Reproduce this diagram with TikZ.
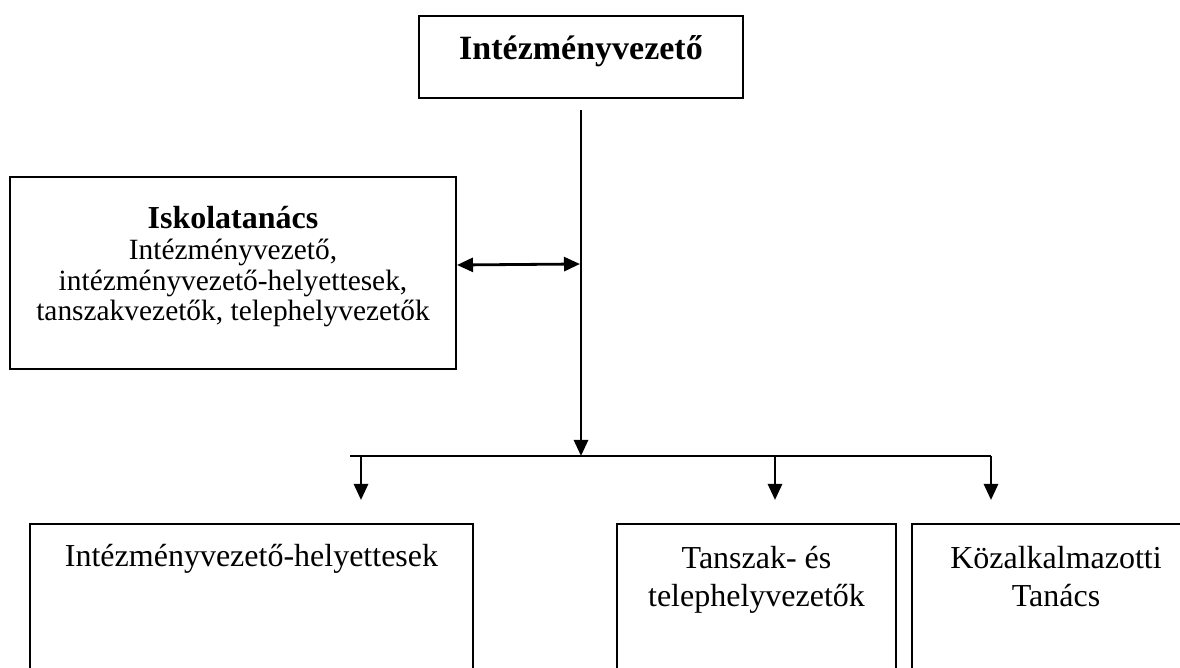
\documentclass[tikz,border=0pt]{standalone}
\usepackage{fontspec}
\setmainfont{Liberation Serif}
\usetikzlibrary{positioning,arrows.meta}

\begin{document}
\begin{tikzpicture}[x=0.5pt,y=-0.5pt,
  frame/.style={draw,line width=1pt,inner sep=0pt},
  txt/.style={align=center,inner sep=0pt,anchor=base,font=\fontsize{16}{19}\selectfont},
  link/.style={line width=1.4pt},
  arr/.style={link,-{Triangle[length=8pt,width=7pt]}}]
  \useasboundingbox (0,0) rectangle (1180,668);
  \clip (0,0) rectangle (1180,668);
  % the boxes (the lower ones run off the page), text set on its last baseline
  \node[frame,minimum width=162pt,minimum height=41pt] (lead) at (581,57) {};
  \node[txt,font=\fontsize{17}{17}\selectfont\bfseries] (leadtxt) at (581,60) {Intézményvezető};
  \node[frame,minimum width=223pt,minimum height=96pt] (council) at (233,273) {};
  \node[txt,font=\fontsize{14.7}{15.4}\selectfont] (counciltxt) at (233,321)
    {{\fontsize{16}{15.4}\selectfont\bfseries Iskolatanács}\\Intézményvezető,\\intézményvezető-helyettesek,\\tanszakvezetők, telephelyvezetők};
  \node[frame,minimum width=221.5pt,minimum height=98pt] (deputies) at (251.5,622) {};
  \node[txt] (deputiestxt) at (251.5,567) {Intézményvezető-helyettesek};
  \node[frame,minimum width=139.5pt,minimum height=98pt] (heads) at (756.5,622) {};
  \node[txt] (headstxt) at (756.5,607) {Tanszak- és\\telephelyvezetők};
  \node[frame,minimum width=144pt,minimum height=98pt] (staff) at (1056,622) {};
  \node[txt] (stafftxt) at (1056,607) {Közalkalmazotti\\Tanács};
  % connectors
  \coordinate (junc) at (581,456);
  \coordinate (cr) at (580,264);
  \coordinate (busl) at (350,456);
  \coordinate (busr) at (991,456);
  \draw[arr] ([yshift=-5.5pt]lead.south) -- (junc);
  \draw[link,{Triangle[length=8pt,width=7pt]}-{Triangle[length=8pt,width=7pt]}] ([yshift=4pt]council.east) -- (cr);
  \draw[link] (busl) -- (busr);
  \foreach \x/\n in {361/a,775/b,991/c} {
    \coordinate (top\n) at (\x,456);
    \coordinate (tip\n) at (\x,500);
    \draw[arr] (top\n) -- (tip\n);
  }
\end{tikzpicture}
\end{document}
